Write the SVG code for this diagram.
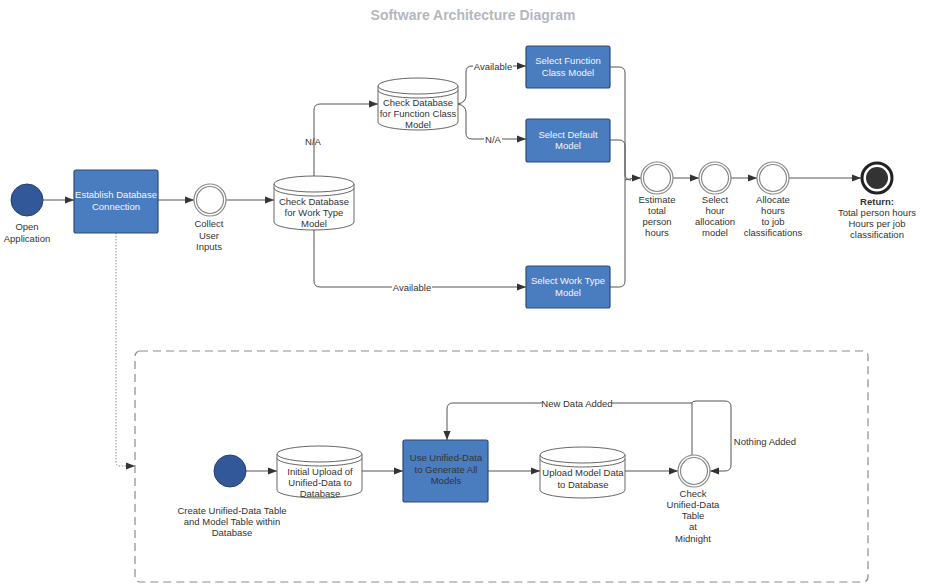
<svg xmlns="http://www.w3.org/2000/svg" width="925" height="586" viewBox="0 0 925 586">
<defs>
<marker id="ah" viewBox="0 0 10 10" refX="10" refY="5" markerWidth="9" markerHeight="9" markerUnits="userSpaceOnUse" orient="auto">
<path d="M0,1 L10,5 L0,9 Z" fill="#333"/>
</marker>
</defs>
<style>
text{font-family:"Liberation Sans",Arial,sans-serif;font-size:9.5px;fill:#333;text-anchor:middle}
.w{fill:#f2f5fb}
.title{font-size:14px;font-weight:bold;fill:#b3b7be}
.box{fill:#4a7dc0;stroke:#2b4a78;stroke-width:1.2}
.start{fill:#33589a;stroke:#23406f;stroke-width:1}
.ev{fill:#fff;stroke:#8a8a8a;stroke-width:1.2}
.cyl{fill:#fff;stroke:#555;stroke-width:0.9}
.c{fill:none;stroke:#555;stroke-width:1}
.ca{fill:none;stroke:#555;stroke-width:1;marker-end:url(#ah)}
.dot{fill:none;stroke:#888;stroke-width:1;stroke-dasharray:1.5 1.5;marker-end:url(#ah)}
.cont{fill:none;stroke:#8c8c8c;stroke-width:1.2;stroke-dasharray:8 5}
.lb{fill:#fff}
</style>
<text class="title" x="473" y="20">Software Architecture Diagram</text>

<g id="connectors">
<path class="ca" d="M43,200 H74"/>
<path class="ca" d="M158,200 H194"/>
<path class="ca" d="M226,200 H274"/>
<path class="ca" d="M314,176 V110 Q314,104 320,104 H378"/>
<path class="ca" d="M458,104 Q466,102 466,96 V72 Q466,66 472,66 H526"/>
<path class="ca" d="M458,104 Q466,106 466,112 V133 Q466,139 472,139 H526"/>
<path class="ca" d="M314,230 V281 Q314,287 320,287 H526"/>
<path class="c" d="M610,67 H619 Q625,67 625,73 V174 Q625,180 631,180"/>
<path class="c" d="M610,140 H619 Q625,140 625,146 V180"/>
<path class="c" d="M610,287 H619 Q625,287 625,281 V180"/>
<path class="ca" d="M625,180 Q631,178 641,178"/>
<path class="ca" d="M673,178 H699"/>
<path class="ca" d="M731,178 H757"/>
<path class="ca" d="M789,178 H861"/>
<path class="dot" d="M116,233 V462 Q116,466 120,466 H135"/>
<path class="ca" d="M246,471 H277"/>
<path class="ca" d="M362,471 H403"/>
<path class="ca" d="M488,471 H540"/>
<path class="ca" d="M625,471 H678"/>
<path class="ca" d="M692,455 V403 H453 Q447,403 447,409 V440"/>
<path class="ca" d="M692,403 Q692,401 696,401 H725 Q731,401 731,407 V465 Q731,471 725,471 H710"/>
<rect class="lb" x="473" y="61" width="40" height="10"/>
<text x="493" y="69.5">Available</text>
<rect class="lb" x="484" y="134" width="18" height="10"/>
<text x="493" y="142.5">N/A</text>
<text x="313" y="144.5">N/A</text>
<rect class="lb" x="392" y="282" width="40" height="10"/>
<text x="412" y="290.5">Available</text>
<rect class="lb" x="542" y="398" width="70" height="10"/>
<text x="577" y="406.5">New Data Added</text>
<text x="765" y="444.5">Nothing Added</text>
</g>

<rect class="cont" x="135" y="351" width="733" height="231" rx="5"/>

<g id="open">
<circle class="start" cx="27" cy="200" r="16"/>
<text x="27" y="230">Open</text>
<text x="27" y="242">Application</text>
</g>

<g id="establish">
<rect class="box" x="74" y="170" width="84" height="63" rx="2"/>
<text class="w" x="116" y="198">Establish Database</text>
<text class="w" x="116" y="209.5">Connection</text>
</g>

<g id="collect">
<circle class="ev" cx="210" cy="200" r="16"/>
<circle class="ev" cx="210" cy="200" r="13.5"/>
<text x="209" y="227">Collect</text>
<text x="209" y="238.5">User</text>
<text x="209" y="250">Inputs</text>
</g>

<g id="checkWorkType">
<path class="cyl" d="M274,184 A40,8 0 0 1 354,184 V222 A40,8 0 0 1 274,222 Z"/>
<path class="cyl" d="M274,184 A40,8 0 0 0 354,184 M274,188 A40,8 0 0 0 354,188"/>
<text x="314" y="205">Check Database</text>
<text x="314" y="216">for Work Type</text>
<text x="314" y="227">Model</text>
</g>

<g id="checkFunctionClass">
<path class="cyl" d="M378,86 A40,8 0 0 1 458,86 V122 A40,8 0 0 1 378,122 Z"/>
<path class="cyl" d="M378,86 A40,8 0 0 0 458,86 M378,90 A40,8 0 0 0 458,90"/>
<text x="418" y="106">Check Database</text>
<text x="418" y="117">for Function Class</text>
<text x="418" y="128">Model</text>
</g>

<g id="selectFunctionClass">
<rect class="box" x="526" y="46" width="84" height="42" rx="2"/>
<text class="w" x="568" y="64">Select Function</text>
<text class="w" x="568" y="75.5">Class Model</text>
</g>

<g id="selectDefault">
<rect class="box" x="526" y="119" width="84" height="43" rx="2"/>
<text class="w" x="568" y="137.5">Select Default</text>
<text class="w" x="568" y="149">Model</text>
</g>

<g id="selectWorkType">
<rect class="box" x="526" y="266" width="84" height="42" rx="2"/>
<text class="w" x="568" y="284">Select Work Type</text>
<text class="w" x="568" y="295.5">Model</text>
</g>

<g id="estimate">
<circle class="ev" cx="657" cy="178" r="16"/>
<circle class="ev" cx="657" cy="178" r="13.5"/>
<text x="657" y="203">Estimate</text>
<text x="657" y="214">total</text>
<text x="657" y="225">person</text>
<text x="657" y="236">hours</text>
</g>

<g id="selectHour">
<circle class="ev" cx="715" cy="178" r="16"/>
<circle class="ev" cx="715" cy="178" r="13.5"/>
<text x="715" y="203">Select</text>
<text x="715" y="214">hour</text>
<text x="715" y="225">allocation</text>
<text x="715" y="236">model</text>
</g>

<g id="allocate">
<circle class="ev" cx="773" cy="178" r="16"/>
<circle class="ev" cx="773" cy="178" r="13.5"/>
<text x="773" y="203">Allocate</text>
<text x="773" y="214">hours</text>
<text x="773" y="225">to job</text>
<text x="773" y="236">classifications</text>
</g>

<g id="return">
<circle cx="877" cy="178" r="15" fill="#fff" stroke="#222" stroke-width="3"/>
<circle cx="877" cy="178" r="11" fill="#333"/>
<text x="877" y="205" style="font-weight:bold">Return:</text>
<text x="877" y="216">Total person hours</text>
<text x="877" y="227">Hours per job</text>
<text x="877" y="238">classification</text>
</g>

<g id="create">
<circle class="start" cx="230" cy="471" r="16"/>
<text x="232" y="514">Create Unified-Data Table</text>
<text x="232" y="525">and Model Table within</text>
<text x="232" y="536">Database</text>
</g>

<g id="initialUpload">
<path class="cyl" d="M277,454 A42.5,8 0 0 1 362,454 V490 A42.5,8 0 0 1 277,490 Z"/>
<path class="cyl" d="M277,454 A42.5,8 0 0 0 362,454 M277,458 A42.5,8 0 0 0 362,458"/>
<text x="320" y="475">Initial Upload of</text>
<text x="320" y="486">Unified-Data to</text>
<text x="320" y="497">Database</text>
</g>

<g id="useUnified">
<rect class="box" x="403" y="440" width="85" height="62" rx="2"/>
<text x="446" y="461">Use Unified-Data</text>
<text x="446" y="472.5">to Generate All</text>
<text x="446" y="484">Models</text>
</g>

<g id="uploadModel">
<path class="cyl" d="M540,455 A42.5,8 0 0 1 625,455 V490 A42.5,8 0 0 1 540,490 Z"/>
<path class="cyl" d="M540,455 A42.5,8 0 0 0 625,455 M540,459 A42.5,8 0 0 0 625,459"/>
<text x="583" y="476">Upload Model Data</text>
<text x="583" y="487.5">to Database</text>
</g>

<g id="checkMidnight">
<circle class="ev" cx="694" cy="471" r="16"/>
<circle class="ev" cx="694" cy="471" r="13.5"/>
<text x="693" y="497">Check</text>
<text x="693" y="508">Unified-Data</text>
<text x="693" y="519">Table</text>
<text x="693" y="530">at</text>
<text x="693" y="542">Midnight</text>
</g>
</svg>
